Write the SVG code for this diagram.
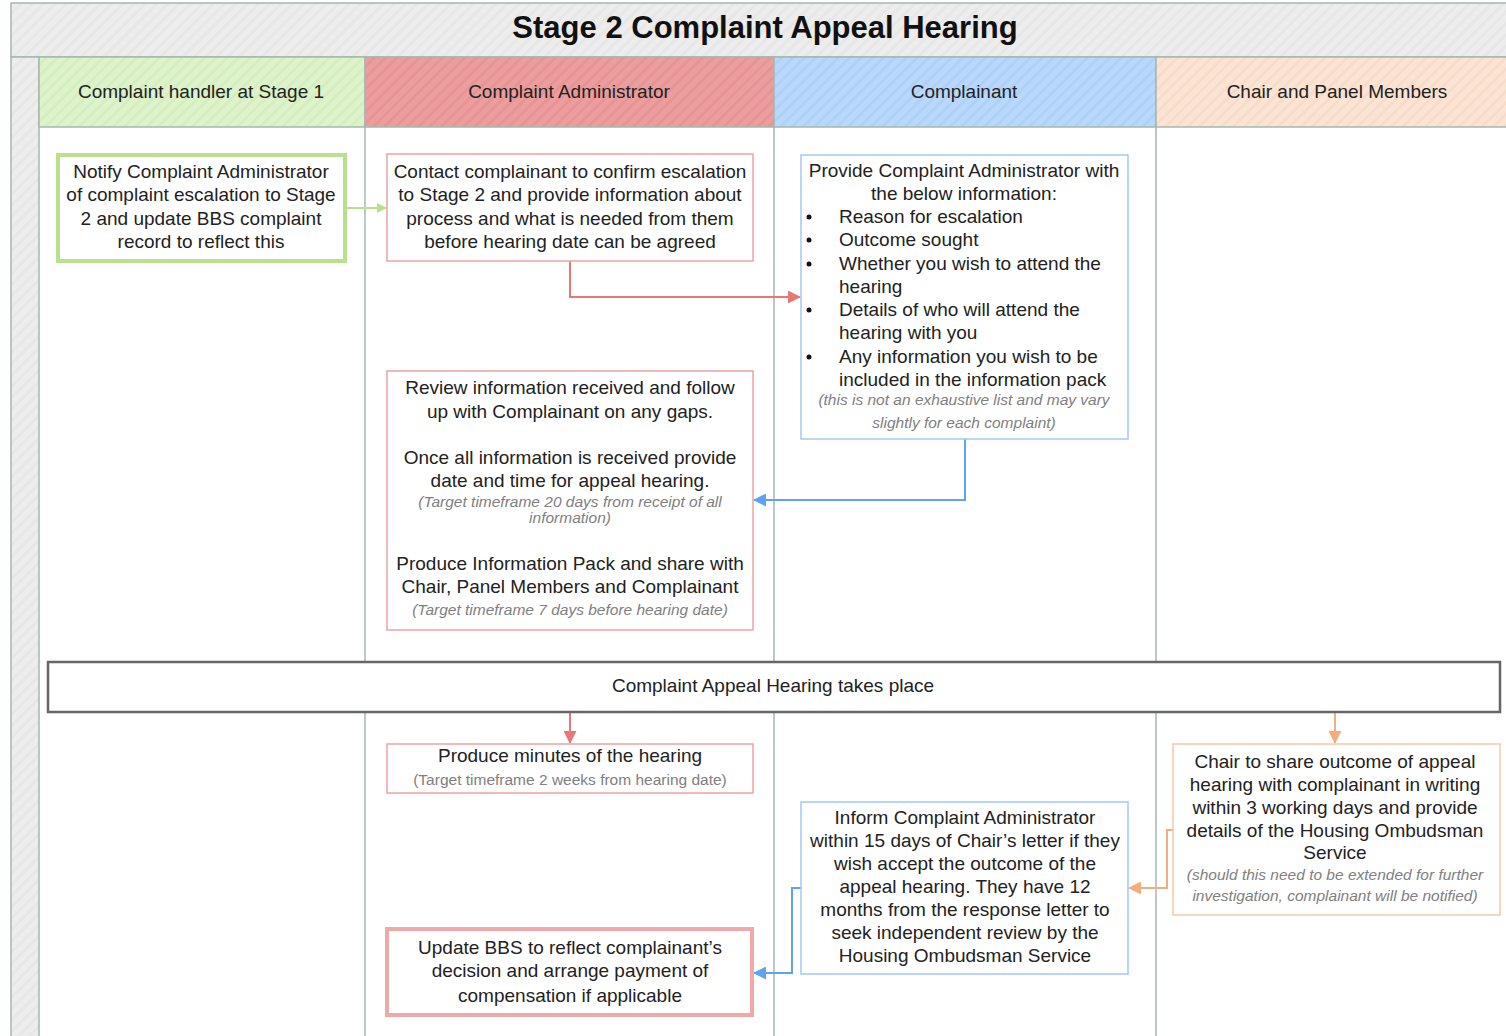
<svg xmlns="http://www.w3.org/2000/svg" width="1506" height="1036" viewBox="0 0 1506 1036">
<defs>
<pattern id="hg" width="8" height="8" patternUnits="userSpaceOnUse" patternTransform="rotate(45)"><rect width="8" height="8" fill="#ededed"/><rect width="3" height="8" fill="#e7e7e7"/></pattern>
<pattern id="hgreen" width="8" height="8" patternUnits="userSpaceOnUse" patternTransform="rotate(45)"><rect width="8" height="8" fill="#def3cb"/><rect width="3" height="8" fill="#d5eebf"/></pattern>
<pattern id="hred" width="8" height="8" patternUnits="userSpaceOnUse" patternTransform="rotate(45)"><rect width="8" height="8" fill="#ec9e9e"/><rect width="3" height="8" fill="#e69494"/></pattern>
<pattern id="hblue" width="8" height="8" patternUnits="userSpaceOnUse" patternTransform="rotate(45)"><rect width="8" height="8" fill="#b9d8fb"/><rect width="3" height="8" fill="#afd1f8"/></pattern>
<pattern id="hpeach" width="8" height="8" patternUnits="userSpaceOnUse" patternTransform="rotate(45)"><rect width="8" height="8" fill="#fce4d4"/><rect width="3" height="8" fill="#f8dcca"/></pattern>
<marker id="ag" markerWidth="10" markerHeight="10" refX="9" refY="5" orient="auto" markerUnits="userSpaceOnUse"><path d="M0,0 L10,5 L0,10 z" fill="#b9e08e"/></marker>
<marker id="ar" markerWidth="13" markerHeight="13" refX="12" refY="6.5" orient="auto" markerUnits="userSpaceOnUse"><path d="M0,0 L13,6.5 L0,13 z" fill="#e87777"/></marker>
<marker id="ab" markerWidth="13" markerHeight="13" refX="12" refY="6.5" orient="auto" markerUnits="userSpaceOnUse"><path d="M0,0 L13,6.5 L0,13 z" fill="#5ea2f2"/></marker>
<marker id="ao" markerWidth="13" markerHeight="13" refX="12" refY="6.5" orient="auto" markerUnits="userSpaceOnUse"><path d="M0,0 L13,6.5 L0,13 z" fill="#f3ae80"/></marker>
</defs>
<style>
text{font-family:"Liberation Sans",Arial,sans-serif;fill:#222;}
.t{font-size:19px;text-anchor:middle;}
.l{font-size:19px;}
.n{font-size:15.5px;font-style:italic;fill:#808080;text-anchor:middle;}
.m{font-size:15.5px;fill:#808080;text-anchor:middle;}
.h{font-size:19px;text-anchor:middle;}
.grid{stroke:#a4b8b0;stroke-width:1.5;}
.line{stroke:#a4b8b0;stroke-width:1.5;fill:none;}
.box{fill:#fff;}
.c{fill:none;stroke-width:2;}
</style>
<rect width="1506" height="1036" fill="#fff"/>
<g id="frame">
<rect x="11" y="3" width="1500" height="54" fill="url(#hg)" class="grid"/>
<rect x="11" y="57" width="28" height="985" fill="url(#hg)" class="grid"/>
<rect x="39" y="57" width="326" height="70" fill="url(#hgreen)" class="grid"/>
<rect x="365" y="57" width="409" height="70" fill="url(#hred)" class="grid"/>
<rect x="774" y="57" width="382" height="70" fill="url(#hblue)" class="grid"/>
<rect x="1156" y="57" width="360" height="70" fill="url(#hpeach)" class="grid"/>
<line x1="365" y1="127" x2="365" y2="1036" class="line"/>
<line x1="774" y1="127" x2="774" y2="1036" class="line"/>
<line x1="1156" y1="127" x2="1156" y2="1036" class="line"/>
<text x="765" y="38" style="font-size:31px;font-weight:bold;text-anchor:middle;fill:#111">Stage 2 Complaint Appeal Hearing</text>
<text x="201" y="98" class="h">Complaint handler at Stage 1</text>
<text x="569" y="98" class="h">Complaint Administrator</text>
<text x="964" y="98" class="h">Complainant</text>
<text x="1337" y="98" class="h">Chair and Panel Members</text>
</g>
<g id="connectors">
<line x1="346" y1="208" x2="386" y2="208" class="c" stroke="#b9e08e" marker-end="url(#ag)"/>
<polyline points="570,261 570,297 800,297" class="c" stroke="#e87777" marker-end="url(#ar)"/>
<polyline points="965,439 965,500 754,500" class="c" stroke="#5ea2f2" marker-end="url(#ab)"/>
<line x1="570" y1="712" x2="570" y2="743" class="c" stroke="#e87777" marker-end="url(#ar)"/>
<line x1="1335" y1="712" x2="1335" y2="743" class="c" stroke="#f3ae80" marker-end="url(#ao)"/>
<polyline points="1173,830 1167,830 1167,888 1129,888" class="c" stroke="#f3ae80" marker-end="url(#ao)"/>
<polyline points="801,888 792,888 792,973 754,973" class="c" stroke="#5ea2f2" marker-end="url(#ab)"/>
</g>
<g id="n1">
<rect x="58" y="155" width="287" height="106" class="box" stroke="#b9e08e" stroke-width="4"/>
<text class="t" x="201" y="178">Notify Complaint Administrator</text>
<text class="t" x="201" y="201">of complaint escalation to Stage</text>
<text class="t" x="201" y="225">2 and update BBS complaint</text>
<text class="t" x="201" y="248">record to reflect this</text>
</g>
<g id="n2">
<rect x="387" y="154" width="366" height="107" class="box" stroke="#f0a3a3" stroke-width="1.5"/>
<text class="t" x="570" y="178">Contact complainant to confirm escalation</text>
<text class="t" x="570" y="201">to Stage 2 and provide information about</text>
<text class="t" x="570" y="225">process and what is needed from them</text>
<text class="t" x="570" y="248">before hearing date can be agreed</text>
</g>
<g id="n3">
<rect x="801" y="155" width="327" height="284" class="box" stroke="#a3c8f5" stroke-width="1.5"/>
<text class="t" x="964" y="177">Provide Complaint Administrator with</text>
<text class="t" x="964" y="200">the below information:</text>
<g fill="#111"><circle cx="809" cy="217" r="2.5"/><circle cx="809" cy="240" r="2.5"/><circle cx="809" cy="264" r="2.5"/><circle cx="809" cy="310" r="2.5"/><circle cx="809" cy="357" r="2.5"/></g>
<text class="l" x="839" y="223">Reason for escalation</text>
<text class="l" x="839" y="246">Outcome sought</text>
<text class="l" x="839" y="270">Whether you wish to attend the</text>
<text class="l" x="839" y="293">hearing</text>
<text class="l" x="839" y="316">Details of who will attend the</text>
<text class="l" x="839" y="339">hearing with you</text>
<text class="l" x="839" y="363">Any information you wish to be</text>
<text class="l" x="839" y="386">included in the information pack</text>
<text class="n" x="964" y="405">(this is not an exhaustive list and may vary</text>
<text class="n" x="964" y="428">slightly for each complaint)</text>
</g>
<g id="n4">
<rect x="387" y="371" width="366" height="259" class="box" stroke="#f0a3a3" stroke-width="1.5"/>
<text class="t" x="570" y="394">Review information received and follow</text>
<text class="t" x="570" y="418">up with Complainant on any gaps.</text>
<text class="t" x="570" y="464">Once all information is received provide</text>
<text class="t" x="570" y="487">date and time for appeal hearing.</text>
<text class="n" x="570" y="507">(Target timeframe 20 days from receipt of all</text>
<text class="n" x="570" y="523">information)</text>
<text class="t" x="570" y="570">Produce Information Pack and share with</text>
<text class="t" x="570" y="593">Chair, Panel Members and Complainant</text>
<text class="n" x="570" y="615">(Target timeframe 7 days before hearing date)</text>
</g>
<g id="n5">
<rect x="48" y="662" width="1452" height="50" class="box" stroke="#666" stroke-width="2.5"/>
<text class="t" x="773" y="692">Complaint Appeal Hearing takes place</text>
</g>
<g id="n6">
<rect x="387" y="744" width="366" height="49" class="box" stroke="#f0a3a3" stroke-width="1.5"/>
<text class="t" x="570" y="762">Produce minutes of the hearing</text>
<text class="m" x="570" y="785">(Target timeframe 2 weeks from hearing date)</text>
</g>
<g id="n7">
<rect x="1173" y="744" width="327" height="171" class="box" stroke="#f7c8a5" stroke-width="1.5"/>
<text class="t" x="1335" y="768">Chair to share outcome of appeal</text>
<text class="t" x="1335" y="791">hearing with complainant in writing</text>
<text class="t" x="1335" y="814">within 3 working days and provide</text>
<text class="t" x="1335" y="837">details of the Housing Ombudsman</text>
<text class="t" x="1335" y="859">Service</text>
<text class="n" x="1335" y="880">(should this need to be extended for further</text>
<text class="n" x="1335" y="901">investigation, complainant will be notified)</text>
</g>
<g id="n8">
<rect x="801" y="802" width="327" height="172" class="box" stroke="#a3c8f5" stroke-width="1.5"/>
<text class="t" x="965" y="824">Inform Complaint Administrator</text>
<text class="t" x="965" y="847">within 15 days of Chair’s letter if they</text>
<text class="t" x="965" y="870">wish accept the outcome of the</text>
<text class="t" x="965" y="893">appeal hearing. They have 12</text>
<text class="t" x="965" y="916">months from the response letter to</text>
<text class="t" x="965" y="939">seek independent review by the</text>
<text class="t" x="965" y="962">Housing Ombudsman Service</text>
</g>
<g id="n9">
<rect x="387" y="929" width="365" height="86" class="box" stroke="#f0a8a8" stroke-width="4"/>
<text class="t" x="570" y="954">Update BBS to reflect complainant’s</text>
<text class="t" x="570" y="977">decision and arrange payment of</text>
<text class="t" x="570" y="1002">compensation if applicable</text>
</g>
</svg>
